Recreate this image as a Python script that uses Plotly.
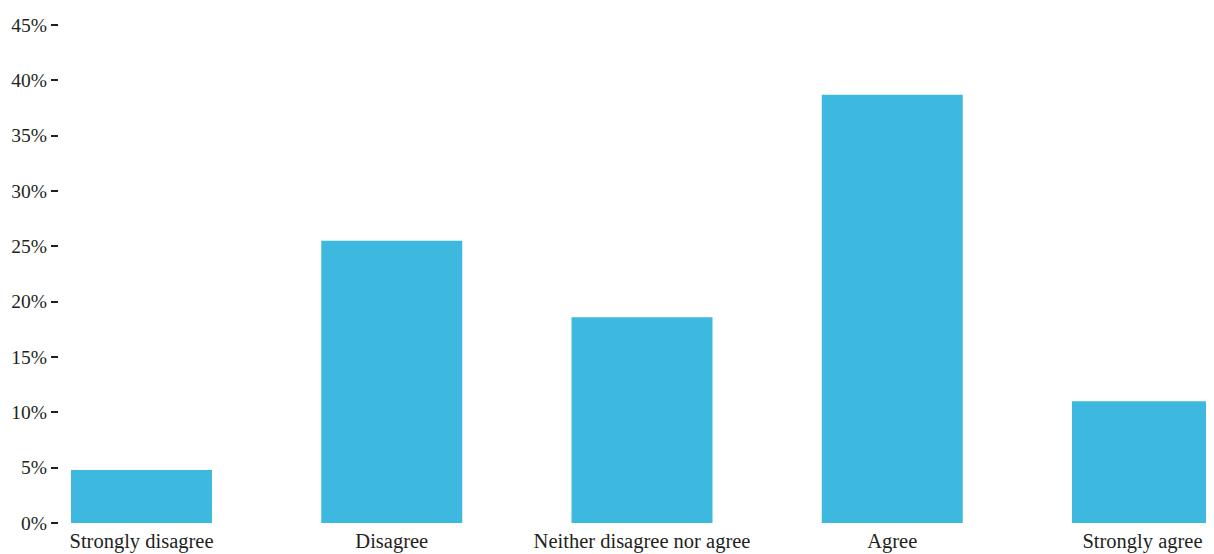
import plotly.graph_objects as go

categories = ["Strongly disagree", "Disagree", "Neither disagree nor agree", "Agree", "Strongly agree"]
values = [4.8, 25.5, 18.6, 38.7, 11.0]
y_ticks = [0, 5, 10, 15, 20, 25, 30, 35, 40, 45]
y_tick_labels = [f"{v}%" for v in y_ticks]

fig = go.Figure()
fig.add_trace(go.Bar(
    x=list(range(len(categories))),
    y=values,
    marker=dict(color="#3db9e0", line=dict(width=0)),
    width=0.5634,
    hoverinfo="skip",
))

fig.update_layout(
    width=1206, height=546,
    margin=dict(l=51, r=0, t=17, b=31),
    paper_bgcolor="white", plot_bgcolor="white",
    showlegend=False,
    font=dict(family="Liberation Serif", color="#231f20"),
    xaxis=dict(
        tickmode="array",
        tickvals=list(range(len(categories))),
        ticktext=categories,
        range=[-0.3297, 4.2857],
        showgrid=False, zeroline=False, showline=False,
        ticks="", ticklabelstandoff=3, automargin=False,
        tickfont=dict(size=20.5, family="Liberation Serif", color="#231f20"),
    ),
    yaxis=dict(
        range=[0, 45],
        tickmode="array",
        tickvals=y_ticks,
        ticktext=y_tick_labels,
        showgrid=False, zeroline=False, showline=False, automargin=False,
        ticks="outside", ticklen=7, tickwidth=1.5, tickcolor="#231f20",
        tickfont=dict(size=19.5, family="Liberation Serif", color="#231f20"),
    ),
)

fig.write_html("out.html")
